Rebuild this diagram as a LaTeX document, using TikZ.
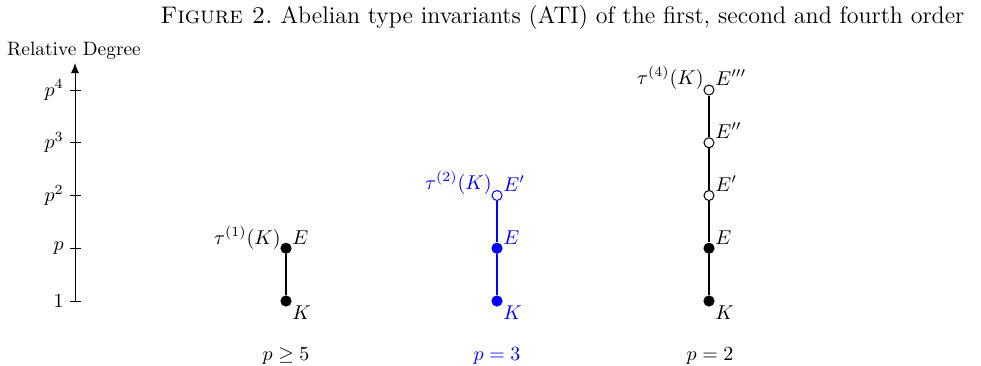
\documentclass[tikz,border=0pt]{standalone}
\usetikzlibrary{arrows.meta}
\begin{document}
\begin{tikzpicture}[x=0.5pt,y=-0.5pt,
  fdot/.style={circle,fill,inner sep=0pt,minimum size=5.6pt},
  odot/.style={circle,draw,fill=white,inner sep=0pt,minimum size=5pt,line width=0.5pt},
  lab/.style={inner sep=0pt,font=\fontsize{10.2}{12}\selectfont},
  ticklab/.style={inner sep=0pt,anchor=east,font=\fontsize{10}{12}\selectfont},
  axtick/.style={line width=0.5pt},
  colline/.style={line width=0.55pt}]
\useasboundingbox (0,0) rectangle (981,365);
% title
\node[inner sep=0pt,anchor=base west,font=\fontsize{12}{14}\selectfont] (title) at (160,23)
  {\textsc{Figure 2.}\ Abelian type invariants (ATI) of the first, second and fourth order};
% axis
\node[inner sep=0pt,anchor=base,font=\fontsize{9.7}{11}\selectfont] (rd) at (74,55) {Relative Degree};
\coordinate (a0) at (75,301);
\coordinate (a1) at (75,248.25);
\coordinate (a2) at (75,195.5);
\coordinate (a3) at (75,142.75);
\coordinate (a4) at (75,90);
\coordinate (atop) at (75,63);
\draw[line width=0.5pt,-{Latex[length=5pt,width=4pt]}] (a0) -- (atop);
\foreach \t in {a0,a1,a2,a3,a4}{\draw[axtick] ([xshift=-2.75pt]\t) -- ([xshift=2.75pt]\t);}
\node[ticklab] (l0) at ([xshift=-5.5pt]a0) {$1$};
\node[ticklab] (l1) at ([xshift=-5.5pt]a1) {$p$};
\node[ticklab] (l2) at ([xshift=-5.5pt]a2) {$p^2$};
\node[ticklab] (l3) at ([xshift=-5.5pt]a3) {$p^3$};
\node[ticklab] (l4) at ([xshift=-5.5pt]a4) {$p^4$};
% column 1
\node[fdot] (k1) at (286,301) {};
\node[fdot] (e1) at (286,248.25) {};
\draw[colline] (k1) -- (e1);
\node[lab,anchor=base west] (k1l) at (292,319) {$K$};
\node[lab,anchor=base west] (e1l) at (292,244) {$E$};
\node[lab,anchor=base east] (t1l) at (281,244) {$\tau^{(1)}(K)$};
\node[lab,anchor=base] (p1) at (286,360) {$p\geq 5$};
% column 2
\begin{scope}[blue]
\node[fdot,fill=blue] (k2) at (497,301) {};
\node[fdot,fill=blue] (e2) at (497,248.25) {};
\node[odot,draw=blue] (e2a) at (497,195.5) {};
\draw[colline,draw=blue] (k2) -- (e2) -- (e2a);
\node[lab,anchor=base west,text=blue] (k2l) at (503,319) {$K$};
\node[lab,anchor=base west,text=blue] (e2l) at (503,244) {$E$};
\node[lab,anchor=base west,text=blue] (e2al) at (503,191) {$E'$};
\node[lab,anchor=base east,text=blue] (t2l) at (492,189) {$\tau^{(2)}(K)$};
\node[lab,anchor=base,text=blue] (p2) at (497,360) {$p=3$};
\end{scope}
% column 3
\node[fdot] (k3) at (709,301) {};
\node[fdot] (e3) at (709,248.25) {};
\node[odot] (e3a) at (709,195.5) {};
\node[odot] (e3b) at (709,142.75) {};
\node[odot] (e3c) at (709,90) {};
\draw[colline] (k3) -- (e3) -- (e3a) -- (e3b) -- (e3c);
\node[lab,anchor=base west] (k3l) at (715,319) {$K$};
\node[lab,anchor=base west] (e3l) at (715,244) {$E$};
\node[lab,anchor=base west] (e3al) at (715,191) {$E'$};
\node[lab,anchor=base west] (e3bl) at (715,138) {$E''$};
\node[lab,anchor=base west] (e3cl) at (715,85) {$E'''$};
\node[lab,anchor=base east] (t3l) at (704,84) {$\tau^{(4)}(K)$};
\node[lab,anchor=base] (p3) at (710,360) {$p=2$};
\end{tikzpicture}
\end{document}
